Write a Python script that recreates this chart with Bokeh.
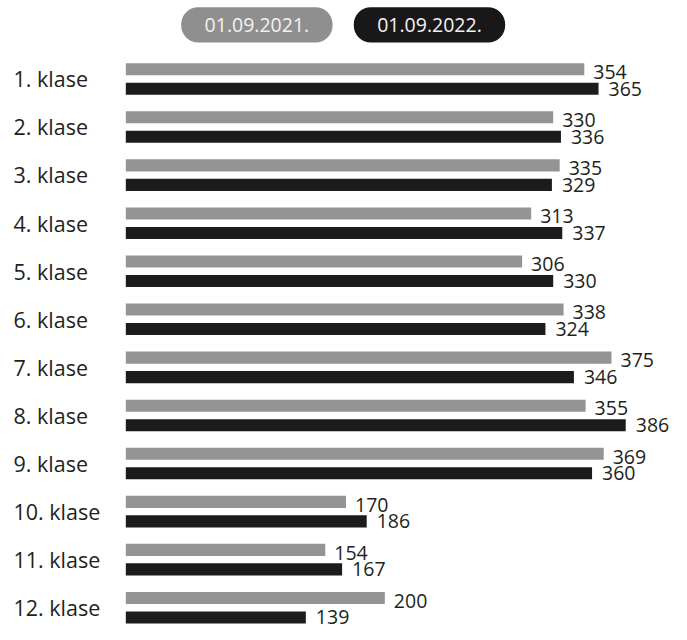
from bokeh.plotting import figure
from bokeh.models import Range1d, BoxAnnotation
from bokeh.core.properties import value
from bokeh.embed import file_html
from bokeh.resources import INLINE

categories = ["1. klase", "2. klase", "3. klase", "4. klase", "5. klase", "6. klase",
              "7. klase", "8. klase", "9. klase", "10. klase", "11. klase", "12. klase"]
series_names = ["01.09.2021.", "01.09.2022."]
values_2021 = [354, 330, 335, 313, 306, 338, 375, 355, 369, 170, 154, 200]
values_2022 = [365, 336, 329, 337, 330, 324, 346, 386, 360, 186, 167, 139]

GRAY = "#949494"
BLACK = "#1e1b1c"
PILL_GRAY = "#8f8f8f"
PILL_BLACK = "#1a1718"
TEXT = "#231f20"
FONT = value("Open Sans")

W, H = 671, 624
SX = W / 687
SY = H / 640

X0 = 128.3 * SX          # canvas x of value 0
PPV = 1.326 * SX         # pixels per value
ROW0 = 80.5 * SY         # canvas y of first row centre
STEP = 49.3 * SY         # row spacing
TEXT_FIX = -7.5          # baseline correction in canvas px

x_start = -X0 / PPV
x_end = (W - X0) / PPV
y_top = -ROW0 / STEP
y_bottom = y_top + H / STEP


def dy(ref_px):
    return ref_px * SY / STEP


def tdy(ref_px):
    return (ref_px * SY + TEXT_FIX) / STEP


def px_x(ref_x):
    return (ref_x * SX - X0) / PPV


def px_y(ref_y):
    return y_top + ref_y * SY / STEP


p = figure(width=W, height=H, x_range=Range1d(x_start, x_end),
           y_range=Range1d(y_bottom, y_top), output_backend="svg",
           toolbar_location=None, min_border=0,
           x_axis_location=None, y_axis_location=None)
p.outline_line_color = None
p.grid.visible = False
p.background_fill_color = "white"
p.border_fill_color = "white"

idx = list(range(len(categories)))
y_gray = [i - dy(10) for i in idx]
y_black = [i + dy(10) for i in idx]

p.hbar(y=y_gray, left=0, right=values_2021, height=dy(12.4),
       fill_color=GRAY, line_color=None)
p.hbar(y=y_black, left=0, right=values_2022, height=dy(12.4),
       fill_color=BLACK, line_color=None)

# value labels
p.text(x=values_2021, y=[i + tdy(0.5) for i in idx], text=[str(v) for v in values_2021],
       x_offset=9, text_align="left", text_baseline="alphabetic",
       text_font=FONT, text_font_size="19.5px", text_color=TEXT)
p.text(x=values_2022, y=[i + tdy(17.5) for i in idx], text=[str(v) for v in values_2022],
       x_offset=10, text_align="left", text_baseline="alphabetic",
       text_font=FONT, text_font_size="19.5px", text_color=TEXT)

# category labels
p.text(x=[0] * len(categories), y=[i + tdy(7.5) for i in idx], text=categories,
       x_offset=15 * SX - 1.7 - X0, text_align="left", text_baseline="alphabetic",
       text_font=FONT, text_font_size="21.5px", text_color=TEXT)

# legend pills
pills = [(185, 340, PILL_GRAY), (361.7, 516.7, PILL_BLACK)]
for (l, r, c) in pills:
    p.add_layout(BoxAnnotation(left=px_x(l), right=px_x(r), top=px_y(7), bottom=px_y(43),
                               fill_color=c, fill_alpha=1, line_color=None,
                               border_radius=17, level="underlay"))
p.text(x=[px_x((l + r) / 2) for (l, r, c) in pills],
       y=[px_y(0) + tdy(33.3)] * 2, text=series_names,
       text_align="center", text_baseline="alphabetic",
       text_font=FONT, text_font_size="19.5px", text_color="#f2f2f2")

open("out.html", "w").write(file_html(p, INLINE))
